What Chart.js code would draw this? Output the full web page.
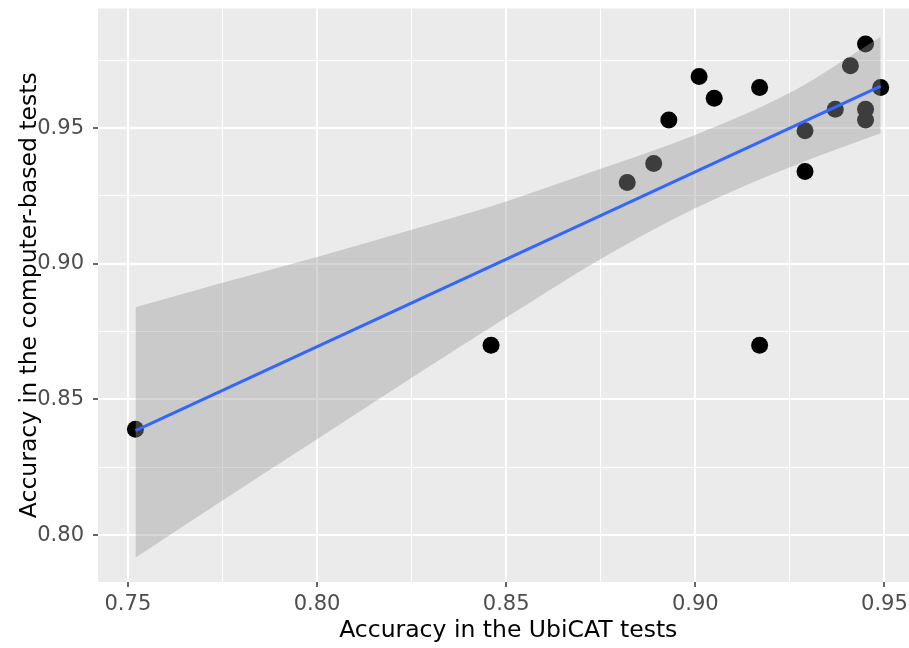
<!DOCTYPE html>
<html>
<head>
<meta charset="utf-8">
<script src="https://cdn.jsdelivr.net/npm/chart.js@4.4.1/dist/chart.umd.min.js"></script>
<style>
  html, body { margin: 0; padding: 0; background: #ffffff; overflow: hidden; }
  canvas { display: block; }
</style>
</head>
<body>
<canvas id="scatter" width="927" height="648"></canvas>
<script>
// accuracy per participant (UbiCAT vs computer-based)
var ubicat   = [0.752, 0.846, 0.882, 0.889, 0.893, 0.901, 0.905, 0.917, 0.917, 0.929, 0.929, 0.937, 0.941, 0.945, 0.945, 0.945, 0.949];
var computer = [0.839, 0.870, 0.930, 0.937, 0.953, 0.969, 0.961, 0.965, 0.870, 0.949, 0.934, 0.957, 0.973, 0.981, 0.957, 0.953, 0.965];

// fitted line and its confidence band
var fitX = [0.752, 0.949];
var fitY = [0.8385, 0.9655];
var bandX     = [0.752, 0.775, 0.800, 0.825, 0.850, 0.875, 0.900, 0.925, 0.949];
var bandUpper = [0.884, 0.893, 0.9025, 0.9125, 0.923, 0.935, 0.9475, 0.963, 0.9837];
var bandLower = [0.7916, 0.8127, 0.8353, 0.858, 0.8802, 0.9018, 0.9205, 0.9356, 0.9481];

// axis ticks
var xMajor = [0.75, 0.80, 0.85, 0.90, 0.95];
var xMinor = [0.775, 0.825, 0.875, 0.925];
var yMajor = [0.80, 0.85, 0.90, 0.95];
var yMinor = [0.825, 0.875, 0.925, 0.975];

function pts(xs, ys) {
    return xs.map(function (x, i) { return { x: x, y: ys[i] }; });
}

function isMajor(v) {
    return Math.abs(v * 20 - Math.round(v * 20)) < 1e-6;
}

function setTicks(major, minor) {
    return function (scale) {
        scale.ticks = major.concat(minor).sort().map(function (v) { return { value: v }; });
    };
}

// no extra room for label overflow, panel is placed by hand
function fixSize(prop, size) {
    return function (s) {
        s[prop] = size;
        s.paddingLeft = 0;
        s.paddingRight = 0;
        s.paddingTop = 0;
        s.paddingBottom = 0;
    };
}

// grey panel behind everything
var panelBg = {
    id: 'panelBg',
    beforeDraw: function (chart) {
        var a = chart.chartArea;
        var ctx = chart.ctx;
        ctx.save();
        ctx.fillStyle = '#EBEBEB';
        ctx.fillRect(a.left, a.top, a.right - a.left, a.bottom - a.top);
        ctx.restore();
    }
};

var gridOpts = {
    color: '#FFFFFF',
    lineWidth: function (c) { return isMajor(c.tick.value) ? 2 : 1; },
    tickColor: function (c) { return isMajor(c.tick.value) ? '#333333' : 'rgba(0,0,0,0)'; },
    tickLength: 5,
    tickWidth: 1.5
};

var tickFont = { family: 'DejaVu Sans', size: 21 };
var titleFont = { family: 'DejaVu Sans', size: 23.5 };

var ctx = document.getElementById('scatter').getContext('2d');
var scatterChart = new Chart(ctx, {
    type: 'scatter',
    data: {
        datasets: [{
            // regression line (drawn on top)
            data: pts(fitX, fitY),
            showLine: true,
            borderColor: '#3366FF',
            borderWidth: 3,
            pointRadius: 0,
            fill: false
        }, {
            data: pts(bandX, bandUpper),
            showLine: true,
            borderWidth: 0,
            borderColor: 'rgba(0,0,0,0)',
            pointRadius: 0,
            cubicInterpolationMode: 'monotone',
            backgroundColor: 'rgba(153,153,153,0.4)',
            fill: '+1'
        }, {
            data: pts(bandX, bandLower),
            showLine: true,
            borderWidth: 0,
            borderColor: 'rgba(0,0,0,0)',
            pointRadius: 0,
            cubicInterpolationMode: 'monotone',
            fill: false
        }, {
            data: pts(ubicat, computer),
            backgroundColor: '#000000',
            borderWidth: 0,
            pointRadius: 8.5,
            pointHoverRadius: 8.5
        }]
    },
    options: {
        responsive: false,
        animation: false,
        // canvas is wider than the window: the panel runs past the right edge
        layout: { padding: { top: 7, right: 0, left: 0, bottom: 0 } },
        plugins: {
            legend: { display: false },
            tooltip: { enabled: false }
        },
        scales: {
            x: {
                type: 'linear',
                min: 0.7421,
                max: 0.959,
                border: { display: false },
                grid: gridOpts,
                afterBuildTicks: setTicks(xMajor, xMinor),
                afterFit: fixSize('height', 66),
                ticks: {
                    color: '#4D4D4D',
                    font: tickFont,
                    padding: 5,
                    maxRotation: 0,
                    autoSkip: false,
                    callback: function (v) { return isMajor(v) ? v.toFixed(2) : ''; }
                },
                title: {
                    display: true,
                    text: 'Accuracy in the UbiCAT tests',
                    color: '#000000',
                    font: titleFont,
                    padding: { top: 0, bottom: 3 }
                }
            },
            y: {
                type: 'linear',
                min: 0.7827,
                max: 0.9941,
                border: { display: false },
                grid: gridOpts,
                afterBuildTicks: setTicks(yMajor, yMinor),
                afterFit: fixSize('width', 98),
                ticks: {
                    color: '#4D4D4D',
                    font: tickFont,
                    padding: 9,
                    autoSkip: false,
                    callback: function (v) { return isMajor(v) ? v.toFixed(2) : ''; }
                },
                title: {
                    display: true,
                    text: 'Accuracy in the computer-based tests',
                    color: '#000000',
                    font: titleFont,
                    padding: { top: 16, bottom: 0 }
                }
            }
        }
    },
    plugins: [panelBg]
});
</script>
</body>
</html>
